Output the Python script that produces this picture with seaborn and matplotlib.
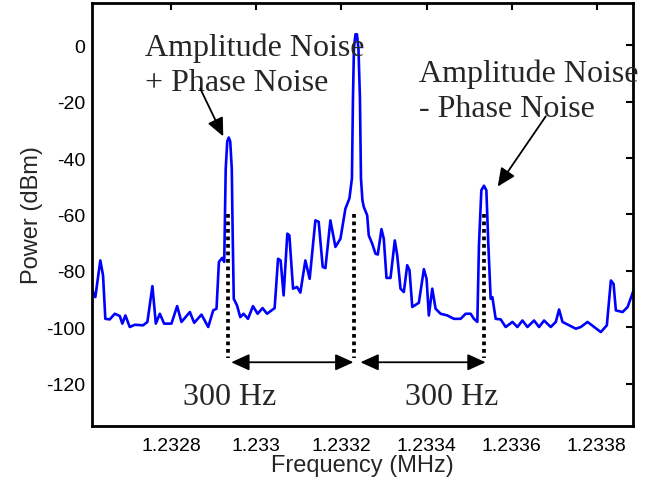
import matplotlib
matplotlib.use("Agg")
import matplotlib.pyplot as plt
import seaborn as sns
import pandas as pd

# Spectrum trace (MHz, dBm)
freq_mhz = [
    1.2326125, 1.2326219, 1.2326336, 1.2326400, 1.2326454, 1.2326558, 1.2326675,
    1.2326793, 1.2326854, 1.2326925, 1.2327028, 1.2327146, 1.2327341, 1.2327442,
    1.2327560, 1.2327640, 1.2327734, 1.2327835, 1.2328007, 1.2328141, 1.2328242,
    1.2328440, 1.2328541, 1.2328713, 1.2328871, 1.2328988, 1.2329066, 1.2329122,
    1.2329200, 1.2329247, 1.2329282, 1.2329318, 1.2329353, 1.2329388, 1.2329424,
    1.2329447, 1.2329471, 1.2329546, 1.2329624, 1.2329701, 1.2329805, 1.2329922,
    1.2330031, 1.2330148, 1.2330252, 1.2330431, 1.2330511, 1.2330572, 1.2330642,
    1.2330729, 1.2330777, 1.2330864, 1.2330958, 1.2331035, 1.2331153, 1.2331254,
    1.2331388, 1.2331466, 1.2331560, 1.2331624, 1.2331741, 1.2331859, 1.2331977,
    1.2332094, 1.2332188, 1.2332247, 1.2332271, 1.2332294, 1.2332330, 1.2332365,
    1.2332400, 1.2332435, 1.2332459, 1.2332494, 1.2332525, 1.2332605, 1.2332642,
    1.2332722, 1.2332800, 1.2332854, 1.2332941, 1.2332995, 1.2333059, 1.2333153,
    1.2333254, 1.2333311, 1.2333388, 1.2333466, 1.2333546, 1.2333600, 1.2333664,
    1.2333819, 1.2333937, 1.2334000, 1.2334054, 1.2334134, 1.2334212, 1.2334330,
    1.2334487, 1.2334643, 1.2334800, 1.2334918, 1.2335035, 1.2335113, 1.2335193,
    1.2335231, 1.2335287, 1.2335349, 1.2335405, 1.2335452, 1.2335506, 1.2335546,
    1.2335624, 1.2335741, 1.2335859, 1.2336017, 1.2336134, 1.2336252, 1.2336370,
    1.2336525, 1.2336643, 1.2336760, 1.2336918, 1.2337036, 1.2337113, 1.2337193,
    1.2337349, 1.2337506, 1.2337624, 1.2337781, 1.2337937, 1.2338094, 1.2338235,
    1.2338330, 1.2338393, 1.2338447, 1.2338605, 1.2338723, 1.2338864,
]
power_dbm = [
    -86.1, -89.3, -76.3, -81.6, -97.0, -97.2, -95.2,
    -96.0, -98.7, -95.8, -99.9, -99.1, -99.3, -98.1,
    -85.4, -98.7, -95.2, -98.7, -98.7, -92.5, -98.1,
    -94.6, -98.4, -95.5, -99.9, -94.0, -93.4, -76.8,
    -75.4, -76.8, -43.7, -34.1, -32.7, -34.1, -43.7,
    -68.5, -89.9, -92.2, -96.4, -95.2, -97.0, -92.5,
    -95.2, -93.2, -95.2, -93.2, -75.7, -76.3, -88.7,
    -66.8, -67.4, -86.3, -85.7, -87.7, -76.3, -82.8,
    -62.1, -62.6, -78.6, -79.0, -62.1, -71.5, -68.6,
    -57.9, -54.3, -47.2, -18.8, -1.1, 3.9, 3.9,
    -1.1, -18.8, -47.2, -55.0, -57.3, -60.3, -67.4,
    -70.3, -73.9, -74.2, -65.2, -68.6, -82.5, -82.5,
    -69.2, -74.5, -86.3, -87.5, -78.0, -79.8, -92.8,
    -91.3, -79.4, -82.8, -95.8, -86.3, -93.4, -95.2,
    -95.8, -97.0, -97.0, -95.2, -95.2, -97.0, -98.1,
    -70.9, -51.4, -49.8, -51.4, -70.9, -89.9, -89.3,
    -97.0, -97.2, -99.9, -98.1, -99.9, -97.6, -99.9,
    -97.6, -99.9, -97.6, -99.9, -98.1, -93.7, -98.1,
    -99.3, -100.5, -99.9, -98.1, -99.9, -101.7, -99.3,
    -83.4, -84.6, -94.0, -94.6, -92.8, -86.9,
]

# Carrier and the two sidebands marked with dotted lines
marker_freqs = [1.2329335, 1.2332290, 1.2335349]
marker_top = -60
marker_bottom = -111

# 300 Hz spans between the markers
span_starts = [1.2329411, 1.2332447]
span_ends = [1.2332283, 1.2335388]
span_labels = ["300 Hz", "300 Hz"]
span_label_x = [1.2329376, 1.2334600]

xtick_vals = [1.2328, 1.2330, 1.2332, 1.2334, 1.2336, 1.2338]
xtick_labels = ["1.2328", "1.233", "1.2332", "1.2334", "1.2336", "1.2338"]
ytick_vals = [-120, -100, -80, -60, -40, -20, 0]

df = pd.DataFrame({"Frequency (MHz)": freq_mhz, "Power (dBm)": power_dbm})

sns.set_style("white")
plt.rcParams["font.family"] = ["Liberation Sans", "DejaVu Sans"]
plt.rcParams["axes.unicode_minus"] = False

fig = plt.figure(figsize=(6.65, 4.85), dpi=100)
ax = fig.add_axes([0.1383, 0.1196, 0.8136, 0.8722])

sns.lineplot(data=df, x="Frequency (MHz)", y="Power (dBm)", color="blue",
             linewidth=1.9, ax=ax, sort=False)

# dotted markers under the three lines
for f in marker_freqs:
    ax.plot([f, f], [marker_top, marker_bottom], color="black", lw=2.7,
            linestyle=(0, (1, 1)))

head = "head_length=1.1,head_width=0.5"
for x0, x1 in zip(span_starts, span_ends):
    ax.annotate("", xy=(x0, -112.4), xytext=(x1, -112.4),
                arrowprops=dict(arrowstyle="<|-|>," + head,
                                color="black", lw=1.3, shrinkA=0, shrinkB=0))

serif = "Liberation Serif"
for xl, lab in zip(span_label_x, span_labels):
    ax.text(xl, -127.2, lab, ha="center", va="baseline", fontsize=23, family=serif)

ax.text(1.2327388, -16.0, "Amplitude Noise\n+ Phase Noise", ha="left",
        va="baseline", fontsize=23, family=serif, linespacing=1.3)
ax.annotate("", xy=(1.2329224, -32.3), xytext=(1.2328682, -15.3),
            arrowprops=dict(arrowstyle="-|>," + head, color="black", lw=1.3,
                            shrinkA=0, shrinkB=0))

ax.text(1.2333812, -25.2, "Amplitude Noise\n- Phase Noise", ha="left",
        va="baseline", fontsize=23, family=serif, linespacing=1.3)
ax.annotate("", xy=(1.2335671, -50.1), xytext=(1.2336800, -25.2),
            arrowprops=dict(arrowstyle="-|>," + head, color="black", lw=1.3,
                            shrinkA=0, shrinkB=0))

ax.set_xlim(1.232614, 1.233885)
ax.set_ylim(-135, 15)
ax.set_xticks(xtick_vals)
ax.set_xticklabels(xtick_labels)
ax.set_yticks(ytick_vals)
ax.tick_params(direction="in", length=5, width=1.5, top=True, right=True,
               labelsize=14, pad=8, colors="black")
ax.tick_params(axis="y", pad=5)
for sp in ax.spines.values():
    sp.set_linewidth(2)
    sp.set_color("black")
ax.set_xlabel("Frequency (MHz)", fontsize=17, labelpad=0)
ax.set_ylabel("Power (dBm)", fontsize=17, labelpad=2)

fig.savefig("out.png", dpi=100)
